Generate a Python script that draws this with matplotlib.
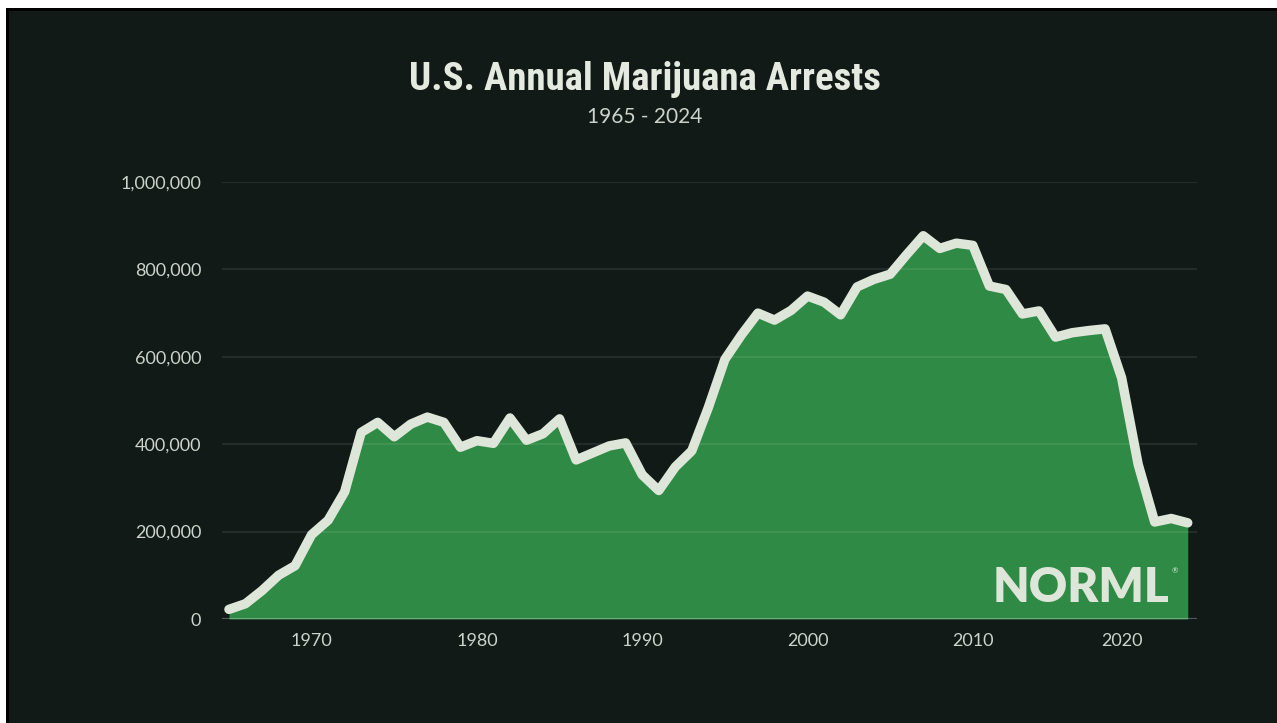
import matplotlib
matplotlib.use("Agg")
import matplotlib.pyplot as plt
from matplotlib.patches import Rectangle
from matplotlib.ticker import FuncFormatter
from matplotlib import font_manager
import numpy as np

# Annual marijuana arrests (FBI UCR); 2021 has no national figure
years = list(range(1965, 2021)) + [2022, 2023, 2024]
arrests = [
    22000, 35000, 65000, 100000, 122000, 193000, 226000, 291000, 427000, 450000,
    417000, 446000, 462000, 450000, 393000, 408000, 402000, 460000, 409000, 424000,
    458000, 364000, 380000, 396000, 403000, 330000, 294000, 348000, 385000, 484000,
    594000, 650000, 700000, 684000, 706000, 739000, 725000, 696000, 760000, 777000,
    789000, 834000, 877000, 848000, 860000, 855000, 762000, 754000, 698000, 705000,
    645000, 655000, 660000, 664000, 552000, 354000, 222000, 230000, 220000,
]
y_ticks = [0, 200000, 400000, 600000, 800000, 1000000]
x_tick_labels = ["1970", "1980", "1990", "2000", "2010", "2020"]
x_tick_slots = [5, 15, 25, 35, 45, 54]

title = "U.S. Annual Marijuana Arrests"
subtitle = "1965 - 2024"

BG = "#121a18"
GREEN = "#2f8a45"
LINE = "#dde6d8"
TEXT = "#cdd3cc"

# pick a narrow bold face for the headline when one is available
installed = {f.name for f in font_manager.fontManager.ttflist}
title_family = next((f for f in ["Roboto Condensed", "Liberation Sans Narrow",
                                 "Open Sans Condensed", "Roboto"] if f in installed),
                    "DejaVu Sans")
narrow = title_family in ("Roboto Condensed", "Liberation Sans Narrow", "Open Sans Condensed")

W, H = 1277, 723
fig = plt.figure(figsize=(W / 100, H / 100), dpi=100, facecolor="white")

# dark panel with a thin black edge along the top and left
fig.patches.append(Rectangle((6 / W, 0), 1, (H - 8) / H, transform=fig.transFigure,
                             facecolor="black", edgecolor="none", zorder=-3))
fig.patches.append(Rectangle((9 / W, 0), 1, (H - 11) / H, transform=fig.transFigure,
                             facecolor=BG, edgecolor="none", zorder=-2))

ax = fig.add_axes([222 / W, 104 / H, 975 / W, 437 / H])
ax.set_facecolor("none")

x = np.arange(len(arrests))
ax.fill_between(x, arrests, 0, color=GREEN, linewidth=0, zorder=1)
for v in y_ticks[1:]:
    ax.axhline(v, color="white", alpha=0.08, linewidth=1.6, zorder=2)
ax.axhline(0, color="white", alpha=0.28, linewidth=1.6, zorder=2)
ax.plot(x, arrests, color=LINE, linewidth=6.8, solid_capstyle="round",
        solid_joinstyle="round", zorder=3, clip_on=False)

ax.set_xlim(-0.42, 58.56)
ax.set_ylim(0, 1000000)
for s in ax.spines.values():
    s.set_visible(False)

ax.set_yticks(y_ticks)
ax.yaxis.set_major_formatter(FuncFormatter(lambda v, p: f"{int(v):,}"))
ax.set_xticks(x_tick_slots)
ax.set_xticklabels(x_tick_labels)
ax.tick_params(axis="both", length=0, colors=TEXT, labelsize=13)
ax.tick_params(axis="y", pad=15)
ax.tick_params(axis="x", pad=10)
for lab in ax.get_xticklabels() + ax.get_yticklabels():
    lab.set_fontfamily("Lato")

# NORML wordmark inside the area
ax.text(0.972, 0.039, "NORML", transform=ax.transAxes, ha="right", va="baseline",
        fontsize=34, fontweight="heavy", family="Lato", color=LINE, zorder=4)
ax.text(0.974, 0.104, "®", transform=ax.transAxes, ha="left", va="baseline",
        fontsize=5.5, family="Lato", color=LINE, zorder=4)

fig.text(0.505, 0.890, title, ha="center", va="center",
         fontsize=28 if narrow else 23, fontweight="bold",
         family=title_family, color="#e4eadf")
fig.text(0.505, 0.838, subtitle, ha="center", va="center", fontsize=15,
         fontweight="normal", family="Lato", color=TEXT)

fig.savefig("out.png", dpi=100, facecolor=fig.get_facecolor())
